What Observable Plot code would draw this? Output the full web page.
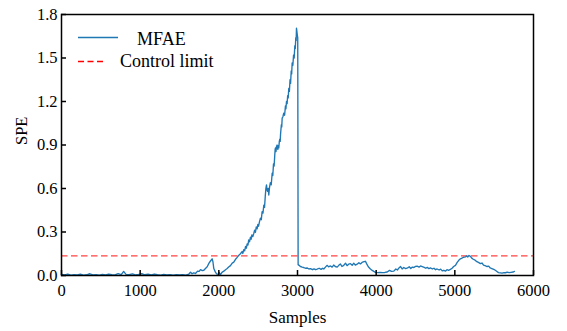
<!DOCTYPE html>
<html><head><meta charset="utf-8">
<script src="https://cdn.jsdelivr.net/npm/d3@7"></script>
<script src="https://cdn.jsdelivr.net/npm/@observablehq/plot@0.6"></script>
<style>
body{margin:0;background:#fff}
#chart{width:567px;height:331px}
#chart svg, #chart svg text{font-family:"Liberation Serif","Times New Roman",serif !important}
</style>
</head><body><div id="chart"></div>
<script>
const samples = [
0,40,80,120,160,200,240,280,320,360,400,440,480,520,560,600,640,680,720,760,790,820,860,900,940,980,1020,1060,1100,1140,1180,1220,1260,1300,1340,1380,1420,1460,1500,1540,1580,
1620,1640,1660,1680,1703,1730,1750,1767,1790,1809,1830,1852,1875,1894,1915,1925,1936,1955,1970,1990,2005,2021,2040,2063,2085,2106,2125,2148,2170,2190,2210,2233,2255,2275,
2295,2305,2317,2328,2340,2350,2360,2370,2380,2390,2402,2411,2420,2432,2444,2455,2465,2476,2487,2496,2505,2517,2529,2540,2550,2561,2572,2581,2590,2598,2606,2613,2620,2628,2635,2645,2655,2666,2678,2686,2695,2703,2711,2716,2720,2727,2733,2741,2750,2756,2762,2769,2775,2780,2784,2790,2795,2800,2805,2815,2825,2836,2847,2853,2860,2868,2875,2882,2889,2897,2905,2912,2920,2926,2932,2941,2950,2958,2966,2972,2978,2983,2987,2991,2995,3000,3003,3008,
3025,3038,3060,3080,3101,3125,3145,3165,3190,3210,3230,3250,3275,3300,3320,3334,3355,3375,3395,3419,3440,3460,3480,3504,3525,3545,3565,3588,3610,3630,3650,3673,3695,3715,3735,3758,3780,3800,3820,3845,3864,3880,3900,3927,3950,3970,3991,4020,4050,4080,4110,4140,4170,4195,4224,4250,4270,4290,4310,4330,4351,4375,4400,4420,4440,4460,4480,4500,4521,4545,4565,4585,4605,4630,4650,4670,4690,4715,4735,4755,4775,4800,4820,4840,4860,4880,4900,4920,4944,4965,4985,5008,5030,5050,5071,5090,5110,5135,5150,5165,5180,5198,5215,5235,5262,5280,5300,5325,5345,5365,5385,5410,5430,5450,5470,5495,5515,5535,5555,5580,5600,5625,5645,5665,5690,5715,5740,5758
];
const spe = [
0.008,0.004,0.010,0.003,0.006,0.004,0.009,0.003,0.005,0.012,0.004,0.006,0.003,0.008,0.004,0.010,0.005,0.004,0.013,0.006,0.028,0.008,0.005,0.011,0.004,0.007,0.012,0.005,0.009,0.004,0.010,0.005,0.003,0.007,0.004,0.006,0.003,0.005,0.004,0.006,0.003,
0.010,0.023,0.012,0.018,0.014,0.030,0.028,0.040,0.034,0.036,0.048,0.060,0.085,0.100,0.115,0.095,0.048,0.025,0.012,0.008,0.020,0.006,0.022,0.030,0.040,0.048,0.058,0.068,0.085,0.092,0.110,0.125,0.140,0.150,
0.165,0.152,0.178,0.170,0.200,0.188,0.218,0.210,0.245,0.232,0.265,0.250,0.280,0.268,0.290,0.312,0.298,0.335,0.322,0.352,0.340,0.372,0.395,0.385,0.440,0.430,0.485,0.470,0.545,0.600,0.625,0.590,0.580,0.600,0.555,0.610,0.640,0.625,0.705,0.690,0.770,0.755,0.830,0.870,0.880,0.855,0.890,0.900,0.870,0.895,0.880,0.925,0.940,0.925,0.970,1.010,1.040,1.025,1.085,1.095,1.120,1.105,1.170,1.150,1.200,1.185,1.240,1.225,1.290,1.270,1.350,1.325,1.410,1.390,1.466,1.450,1.520,1.500,1.585,1.565,1.640,1.620,1.705,1.690,1.670,1.650,1.640,0.075,
0.068,0.062,0.058,0.055,0.050,0.052,0.045,0.047,0.040,0.046,0.040,0.044,0.050,0.042,0.050,0.045,0.058,0.070,0.060,0.066,0.058,0.072,0.062,0.058,0.070,0.080,0.062,0.070,0.085,0.068,0.078,0.082,0.070,0.085,0.072,0.078,0.088,0.080,0.090,0.095,0.098,0.080,0.060,0.045,0.035,0.028,0.022,0.020,0.022,0.020,0.021,0.024,0.035,0.028,0.030,0.045,0.038,0.052,0.062,0.045,0.055,0.048,0.052,0.060,0.048,0.058,0.055,0.063,0.064,0.058,0.066,0.062,0.058,0.050,0.056,0.047,0.052,0.045,0.050,0.040,0.045,0.038,0.044,0.032,0.036,0.030,0.040,0.036,0.042,0.050,0.062,0.070,0.090,0.105,0.115,0.120,0.126,0.128,0.135,0.128,0.138,0.132,0.120,0.112,0.104,0.095,0.090,0.082,0.086,0.072,0.068,0.062,0.065,0.052,0.048,0.042,0.036,0.028,0.020,0.018,0.016,0.020,0.019,0.023,0.020,0.022,0.024,0.028
];
const controlLimit = [0.135];
const xTicks = [0,1000,2000,3000,4000,5000,6000];
const yTicks = [0,0.3,0.6,0.9,1.2,1.5,1.8];
const seriesNames = ["MFAE","Control limit"];
const seriesColors = ["#1f77b4","#ff0000"];
const xLabel = ["Samples"];
const yLabel = ["SPE"];

const data = samples.map((s,i)=>({s, v: spe[i]}));
const W=567,H=331,mL=61,mR=34,mT=14,mB=56;
const font = "Liberation Serif, Times New Roman, serif";
const plot = Plot.plot({
  width:W,height:H,marginLeft:mL,marginRight:mR,marginTop:mT,marginBottom:mB,
  style:"font-family: 'Liberation Serif', serif; font-size: 16.5px; color: black; background: white;",
  x:{domain:[0,6000]},
  y:{domain:[0,1.8]},
  marks:[
    Plot.ruleY(controlLimit,{y:d=>d,stroke:seriesColors[1],strokeWidth:1.3,strokeDasharray:"6.5,3.5",strokeOpacity:0.75}),
    Plot.line(data,{x:"s",y:"v",stroke:seriesColors[0],strokeWidth:1.35}),
    Plot.tickX(xTicks,{x:d=>d,stroke:"black",strokeWidth:1.5,insetTop:H-mT-mB-5}),
    Plot.tickY(yTicks,{y:d=>d,stroke:"black",strokeWidth:1.5,insetRight:W-mL-mR-5}),
    Plot.axisX({ticks:xTicks,tickSize:0,tickPadding:9,tickFormat:d=>String(d),label:null,fontSize:16.5}),
    Plot.axisY({ticks:yTicks,tickSize:0,tickPadding:4,tickFormat:d=>d.toFixed(1),label:null,fontSize:16.5}),
    Plot.text(xLabel,{frameAnchor:"bottom",dy:47,fontSize:17}),
    Plot.text(yLabel,{frameAnchor:"left",dx:-40,rotate:-90,fontSize:16.5}),
    Plot.frame({stroke:"black",strokeWidth:1.5})
  ]
});
document.getElementById("chart").appendChild(plot);
const svg = d3.select(plot);
const g = svg.append("g").attr("font-family",font).attr("font-size",18).attr("text-anchor","start");
g.append("line").attr("x1",78).attr("x2",118).attr("y1",37.5).attr("y2",37.5)
  .attr("stroke",seriesColors[0]).attr("stroke-width",1.6);
g.append("text").attr("x",137).attr("y",44.5).attr("fill","black").attr("text-anchor","start").text(seriesNames[0]);
g.append("line").attr("x1",78).attr("x2",104).attr("y1",61.5).attr("y2",61.5)
  .attr("stroke",seriesColors[1]).attr("stroke-width",1.6).attr("stroke-dasharray","6,3.5");
g.append("text").attr("x",120).attr("y",67).attr("fill","black").attr("text-anchor","start").text(seriesNames[1]);
</script>
</body></html>
